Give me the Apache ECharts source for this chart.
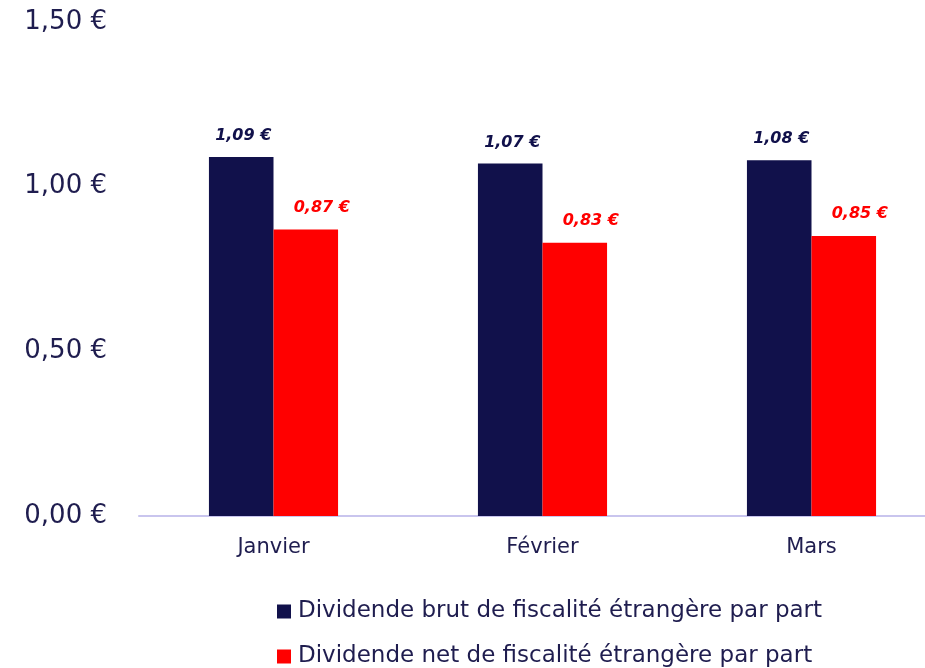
<!DOCTYPE html>
<html>
<head>
<meta charset="utf-8">
<script src="https://cdn.jsdelivr.net/npm/echarts@6/dist/echarts.min.js"></script>
<style>
  html, body { margin: 0; padding: 0; background: #fff; }
  #chart { width: 925px; height: 668px; }
</style>
</head>
<body>
<div id="chart"></div>
<script>
// données
const mois = ['Janvier', 'Février', 'Mars'];
const brut = [1.09, 1.07, 1.08];
const net = [0.87, 0.83, 0.85];
const nomBrut = 'Dividende brut de fiscalité étrangère par part';
const nomNet = 'Dividende net de fiscalité étrangère par part';

const texte = '#1f1d4f';
const police = 'DejaVu Sans';
const euro = v => v.toFixed(2).replace('.', ',') + ' €';

const legende = (nom, top) => ({
    left: 277,
    top: top,
    padding: 0,
    itemWidth: 14,
    itemHeight: 14,
    icon: 'rect',
    textStyle: { fontSize: 23, color: texte, fontFamily: police, padding: [0, 0, 0, 2] },
    data: [nom]
});

const chart = echarts.init(document.getElementById('chart'));

chart.setOption({
    animation: false,
    textStyle: { fontFamily: police },
    grid: { left: 139, width: 807, top: 22, bottom: 152, outerBoundsMode: 'none' },
    legend: [legende(nomBrut, 600), legende(nomNet, 645)],
    xAxis: {
        type: 'category',
        data: mois,
        axisLine: { lineStyle: { color: '#c9c5ee', width: 2 } },
        axisTick: { show: false },
        axisLabel: { color: texte, fontSize: 21, margin: 21 }
    },
    yAxis: {
        type: 'value',
        min: 0,
        max: 1.5,
        interval: 0.5,
        splitLine: { show: false },
        axisLabel: { color: texte, fontSize: 26, margin: 32, formatter: euro }
    },
    series: [
        {
            name: nomBrut,
            type: 'bar',
            data: brut,
            barGap: '0%',
            barCategoryGap: '52%',
            itemStyle: { color: '#11114b' },
            label: {
                show: true,
                position: 'top',
                distance: 13,
                offset: [2, 0],
                formatter: p => euro(p.value),
                color: '#11114b',
                fontSize: 16,
                fontStyle: 'italic',
                fontWeight: 'bold'
            }
        },
        {
            name: nomNet,
            type: 'bar',
            data: net,
            itemStyle: { color: '#ff0000' },
            label: {
                show: true,
                position: 'top',
                distance: 14,
                offset: [16, 0],
                formatter: p => euro(p.value),
                color: '#ff0000',
                fontSize: 16,
                fontStyle: 'italic',
                fontWeight: 'bold'
            }
        }
    ]
});
</script>
</body>
</html>
